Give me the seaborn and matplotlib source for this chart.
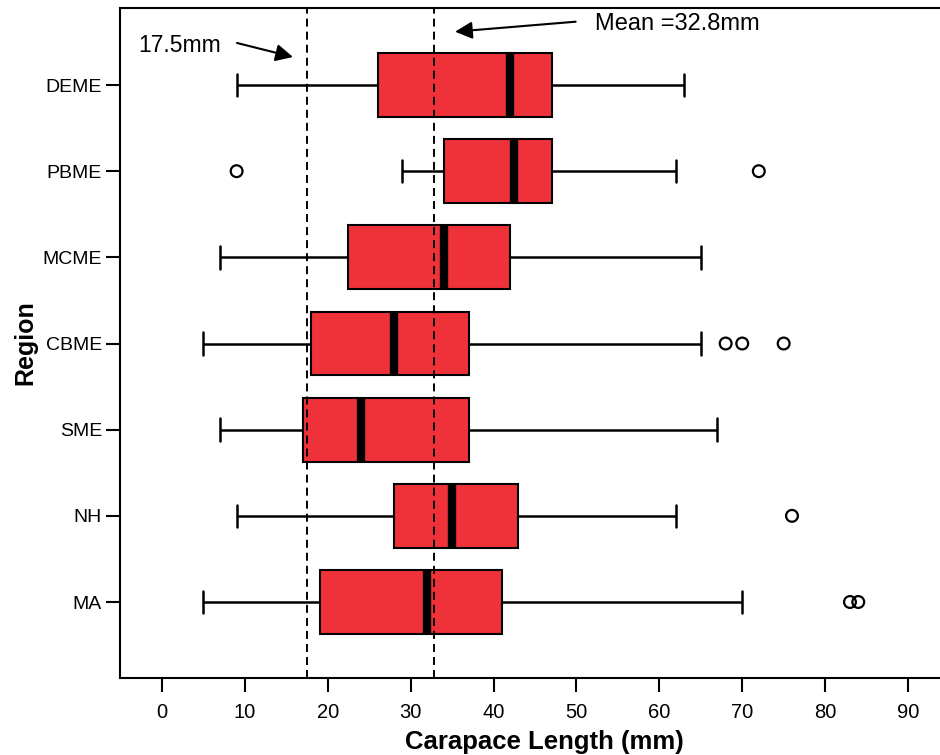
import numpy as np
import pandas as pd
import matplotlib
matplotlib.use("Agg")
import matplotlib.pyplot as plt
import seaborn as sns

# Five-number summaries of carapace length (mm) per region
regions = ["DEME", "PBME", "MCME", "CBME", "SME", "NH", "MA"]
whisker_low = [9, 29, 7, 5, 7, 9, 5]
q1 = [26, 34, 22.4, 18, 17, 28, 19]
median = [42, 42.5, 34, 28, 24, 35, 32]
q3 = [47, 47, 42, 37, 37, 43, 41]
whisker_high = [63, 62, 65, 65, 67, 62, 70]

# Individual outlying animals
outlier_region = ["PBME", "PBME", "CBME", "CBME", "CBME", "NH", "MA", "MA"]
outlier_length = [9, 72, 68, 70, 75, 76, 83, 84]

# Reference lines
size_limit = 17.5
mean_length = 32.8

x_ticks = [0, 10, 20, 30, 40, 50, 60, 70, 80, 90]

RED = "#EF3239"

sns.set_style("ticks")
plt.rcParams["font.family"] = ["Liberation Sans", "DejaVu Sans"]
plt.rcParams.update({
    "text.color": "black",
    "axes.labelcolor": "black",
    "xtick.color": "black",
    "ytick.color": "black",
})

# Long-form table: one row per summary value so the box spans q1..q3
# and the whiskers reach the min / max of each group.
summary = pd.DataFrame({
    "region": np.repeat(regions, 5),
    "length": np.column_stack([whisker_low, q1, median, q3, whisker_high]).ravel(),
})

fig = plt.figure(figsize=(9.4, 7.55), dpi=100)
ax = fig.add_axes([120 / 940, 77 / 755, 820 / 940, 670 / 755])

sns.boxplot(
    data=summary, x="length", y="region", order=regions, orient="h",
    whis=(0, 100), showfliers=False, width=0.74, color=RED, saturation=1,
    linecolor="black", linewidth=1.5,
    medianprops=dict(color="black", linewidth=6, solid_capstyle="butt"),
    whiskerprops=dict(linewidth=1.8),
    capprops=dict(linewidth=1.8),
    capwidths=0.26,
    ax=ax,
)

sns.stripplot(
    x=outlier_length, y=outlier_region, order=regions, orient="h",
    jitter=False, size=8.5, facecolor="none", edgecolor="black",
    linewidth=1.6, ax=ax,
)
for coll in ax.collections:
    coll.set_facecolor("none")
    coll.set_edgecolor("black")

ax.axvline(size_limit, color="black", lw=1.4, ls=(0, (4.1, 2.6)), zorder=5)
ax.axvline(mean_length, color="black", lw=1.4, ls=(0, (4.1, 2.6)), zorder=5)

ax.set_xlim(-5.07, 93.86)
ax.set_ylim(6.882, -0.894)
ax.set_xticks(x_ticks)
ax.set_xticklabels([str(t) for t in x_ticks], fontsize=14.5)
ax.tick_params(axis="y", labelsize=14, pad=3)
ax.tick_params(axis="both", direction="out", length=10, width=1.5,
               color="black")
ax.tick_params(axis="x", pad=8)

for side in ["left", "top", "bottom"]:
    ax.spines[side].set_linewidth(1.5)
    ax.spines[side].set_color("black")
ax.spines["right"].set_visible(False)

ax.set_xlabel("Carapace Length (mm)", fontsize=18.5, fontweight="bold")
ax.set_ylabel("Region", fontsize=18, fontweight="bold")
ax.xaxis.set_label_coords(0.517, -0.077)
ax.yaxis.set_label_coords(-0.101, 0.5)

# Annotations for the reference lines
arrow = dict(arrowstyle="-|>", mutation_scale=26, lw=1.5, color="black",
             shrinkA=0, shrinkB=0)
ax.text(-2.9, -0.46, f"{size_limit}mm", fontsize=16.5, va="center", ha="left")
ax.annotate("", xy=(15.8, -0.325), xytext=(9.05, -0.488), arrowprops=arrow)
ax.text(52.2, -0.708, f"Mean ={mean_length}mm", fontsize=17,
        va="center", ha="left")
ax.annotate("", xy=(35.35, -0.619), xytext=(49.9, -0.735), arrowprops=arrow)

fig.savefig("out.png", dpi=100)
